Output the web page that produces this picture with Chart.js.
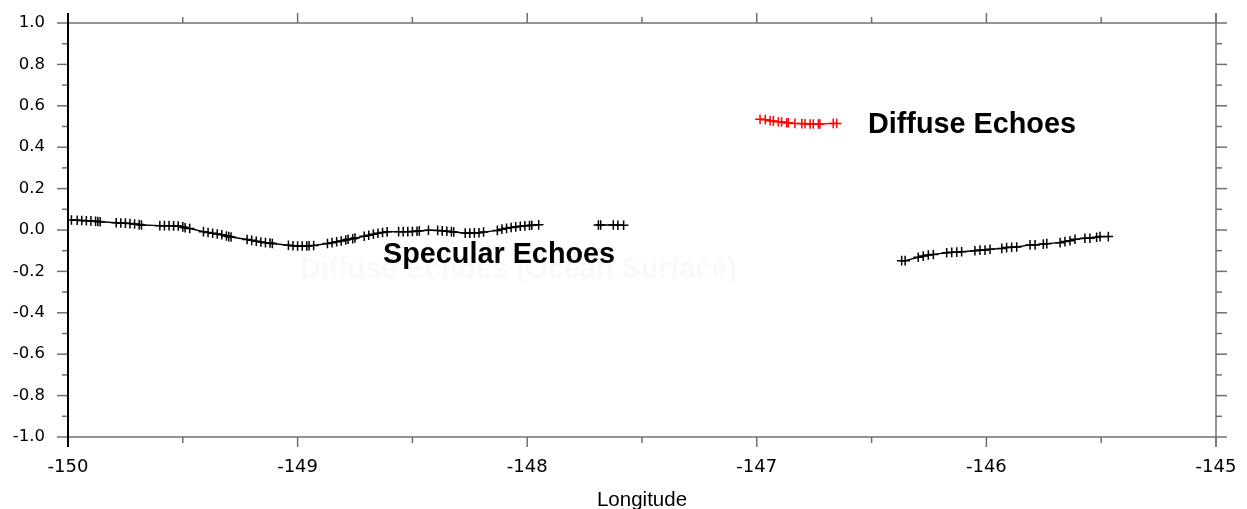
<!DOCTYPE html>
<html>
<head>
<meta charset="utf-8">
<script src="https://cdn.jsdelivr.net/npm/chart.js@4/dist/chart.umd.min.js"></script>
<style>
  html, body { margin: 0; padding: 0; background: #fff; }
  canvas { display: block; }
</style>
</head>
<body>
<canvas id="chart" width="1247" height="509"></canvas>
<script>
// specular echoes, first stretch
const specLon1 = [-149.985, -149.96, -149.94, -149.92, -149.90, -149.88, -149.87, -149.86,
    -149.79, -149.77, -149.75, -149.73, -149.71, -149.69, -149.68,
    -149.60, -149.58, -149.56, -149.54, -149.52, -149.50, -149.49, -149.47,
    -149.41, -149.39, -149.37, -149.35, -149.33, -149.31, -149.30, -149.29,
    -149.22, -149.20, -149.18, -149.16, -149.14, -149.12, -149.11,
    -149.04, -149.02, -149.00, -148.98, -148.96, -148.95, -148.93,
    -148.87, -148.85, -148.83, -148.81, -148.79, -148.78, -148.76, -148.75,
    -148.71, -148.69, -148.67, -148.65, -148.63, -148.61,
    -148.56, -148.54, -148.52, -148.50, -148.48, -148.47,
    -148.43, -148.39, -148.37, -148.35, -148.33, -148.32,
    -148.27, -148.25, -148.23, -148.21, -148.19,
    -148.13, -148.11, -148.09, -148.07, -148.05, -148.03, -148.01, -147.99, -147.98, -147.95];
const specVal1 = [0.048, 0.047, 0.046, 0.045, 0.044, 0.042, 0.041, 0.040,
    0.035, 0.034, 0.033, 0.031, 0.029, 0.026, 0.024,
    0.021, 0.021, 0.021, 0.020, 0.019, 0.015, 0.011, 0.007,
    -0.008, -0.012, -0.016, -0.019, -0.023, -0.029, -0.032, -0.034,
    -0.046, -0.050, -0.054, -0.058, -0.061, -0.063, -0.065,
    -0.074, -0.076, -0.077, -0.077, -0.077, -0.076, -0.075,
    -0.065, -0.061, -0.057, -0.053, -0.048, -0.045, -0.042, -0.039,
    -0.030, -0.025, -0.020, -0.016, -0.012, -0.009,
    -0.008, -0.008, -0.008, -0.007, -0.006, -0.004,
    -0.001, -0.002, -0.004, -0.006, -0.008, -0.010,
    -0.015, -0.015, -0.014, -0.013, -0.010,
    -0.002, 0.004, 0.008, 0.012, 0.015, 0.018, 0.020, 0.022, 0.023, 0.025];

// specular echoes, short stretch
const specLon2 = [-147.69, -147.68, -147.625, -147.605, -147.58];
const specVal2 = [0.024, 0.024, 0.024, 0.023, 0.023];

// specular echoes, eastern stretch
const specLon3 = [-146.369, -146.354, -146.297, -146.275, -146.253, -146.231, -146.173, -146.151,
    -146.129, -146.108, -146.050, -146.028, -146.006, -145.984, -145.933, -145.912,
    -145.890, -145.868, -145.810, -145.788, -145.752, -145.737, -145.679, -145.658,
    -145.636, -145.614, -145.571, -145.549, -145.520, -145.505, -145.469];
const specVal3 = [-0.148, -0.148, -0.132, -0.126, -0.121, -0.118, -0.110, -0.108,
    -0.107, -0.105, -0.100, -0.097, -0.097, -0.093, -0.089, -0.085,
    -0.083, -0.082, -0.072, -0.072, -0.068, -0.066, -0.061, -0.056,
    -0.052, -0.045, -0.040, -0.040, -0.035, -0.032, -0.032];

// diffuse echoes
const diffLon = [-146.986, -146.963, -146.942, -146.928, -146.906, -146.892, -146.870, -146.863,
    -146.834, -146.804, -146.790, -146.768, -146.754, -146.732, -146.725, -146.667, -146.652];
const diffVal = [0.535, 0.533, 0.528, 0.527, 0.523, 0.522, 0.518, 0.518,
    0.515, 0.514, 0.513, 0.512, 0.512, 0.512, 0.512, 0.515, 0.515];

const xTicks = [-150, -149, -148, -147, -146, -145];
const yTicks = [-1.0, -0.8, -0.6, -0.4, -0.2, 0.0, 0.2, 0.4, 0.6, 0.8, 1.0];

const FONT = "'Liberation Sans', Arial, Helvetica, sans-serif";
const TICKFONT = "'DejaVu Sans', sans-serif";

const pts = (xs, ys) => xs.map((x, i) => ({x: x, y: ys[i]}));

function series(data, color) {
    return {
        data: data,
        borderColor: color,
        backgroundColor: color,
        borderWidth: 1.4,
        pointStyle: 'cross',
        pointRadius: 4.8,
        pointBorderWidth: 1.5,
        pointHoverRadius: 4.8,
        tension: 0
    };
}

// frame, ticks on all four sides and minor ticks
const frame = {
    id: 'frame',
    afterDraw(chart) {
        const {ctx, chartArea: a, scales: {x, y}} = chart;
        const line = (x1, y1, x2, y2) => { ctx.beginPath(); ctx.moveTo(x1, y1); ctx.lineTo(x2, y2); ctx.stroke(); };
        ctx.save();
        ctx.strokeStyle = '#707070';
        ctx.lineWidth = 1.5;
        line(a.left, a.top, a.right, a.top);
        line(a.left, a.bottom, a.right, a.bottom);
        line(a.right, a.top - 10, a.right, a.bottom + 10);
        for (let i = 0; i < xTicks.length; i++) {
            const px = x.getPixelForValue(xTicks[i]);
            line(px, a.bottom, px, a.bottom + 10);
            line(px, a.top, px, a.top - 10);
            if (i < xTicks.length - 1) {
                const mx = x.getPixelForValue((xTicks[i] + xTicks[i + 1]) / 2);
                line(mx, a.bottom, mx, a.bottom + 6);
                line(mx, a.top, mx, a.top - 6);
            }
        }
        for (let i = 0; i < yTicks.length; i++) {
            const py = y.getPixelForValue(yTicks[i]);
            line(a.left - 11, py, a.left, py);
            line(a.right, py, a.right + 11, py);
            if (i < yTicks.length - 1) {
                const my = y.getPixelForValue((yTicks[i] + yTicks[i + 1]) / 2);
                line(a.left - 6, my, a.left, my);
                line(a.right, my, a.right + 6, my);
            }
        }
        ctx.strokeStyle = '#000';
        ctx.lineWidth = 2;
        line(a.left, a.top - 10, a.left, a.bottom + 10);
        ctx.restore();
    }
};

// text labels placed at data positions
const notes = {
    id: 'notes',
    beforeDatasetsDraw(chart) {
        const {ctx, scales: {x, y}} = chart;
        ctx.save();
        ctx.font = 'bold 28.8px ' + FONT;
        ctx.textBaseline = 'middle';
        ctx.fillStyle = '#f9f9f9';
        ctx.fillText('Diffuse Echoes (Ocean Surface)', x.getPixelForValue(-148.99), y.getPixelForValue(-0.193));
        ctx.restore();
    },
    afterDatasetsDraw(chart) {
        const {ctx, scales: {x, y}} = chart;
        ctx.save();
        ctx.font = 'bold 28.8px ' + FONT;
        ctx.textBaseline = 'middle';
        ctx.fillStyle = '#000';
        ctx.fillText('Specular Echoes', x.getPixelForValue(-148.628), y.getPixelForValue(-0.121));
        ctx.fillText('Diffuse Echoes', x.getPixelForValue(-146.516), y.getPixelForValue(0.507));
        ctx.restore();
    }
};

new Chart(document.getElementById('chart').getContext('2d'), {
    type: 'line',
    data: {
        datasets: [
            series(pts(specLon1, specVal1), '#000'),
            series(pts(specLon2, specVal2), '#000'),
            series(pts(specLon3, specVal3), '#000'),
            series(pts(diffLon, diffVal), '#ff0000')
        ]
    },
    options: {
        responsive: false,
        animation: false,
        events: [],
        layout: { padding: { left: 0, top: 23, right: 31, bottom: 0 } },
        plugins: { legend: { display: false }, tooltip: { enabled: false } },
        scales: {
            x: {
                type: 'linear',
                min: -150,
                max: -145,
                afterFit(scale) {
                    scale.height = 72;
                    scale.paddingLeft = 0;
                    scale.paddingRight = 0;
                },
                afterBuildTicks(scale) { scale.ticks = xTicks.map(v => ({value: v})); },
                grid: { display: false, drawTicks: false, tickLength: 0 },
                border: { display: false },
                ticks: {
                    color: '#000',
                    font: { family: TICKFONT, size: 18 },
                    padding: 20,
                    maxRotation: 0,
                    callback: v => String(v)
                },
                title: {
                    display: true,
                    text: 'Longitude',
                    color: '#000',
                    font: { family: FONT, size: 20.5 },
                    padding: { top: 0, bottom: -4 }
                }
            },
            y: {
                min: -1,
                max: 1,
                afterFit(scale) {
                    scale.width = 68;
                    scale.paddingTop = 0;
                    scale.paddingBottom = 0;
                },
                afterBuildTicks(scale) { scale.ticks = yTicks.map(v => ({value: v})); },
                grid: { display: false, drawTicks: false, tickLength: 0 },
                border: { display: false },
                ticks: {
                    color: '#000',
                    font: { family: TICKFONT, size: 16.5 },
                    padding: 23,
                    callback: v => Number(v).toFixed(1)
                }
            }
        }
    },
    plugins: [frame, notes]
});
</script>
</body>
</html>
